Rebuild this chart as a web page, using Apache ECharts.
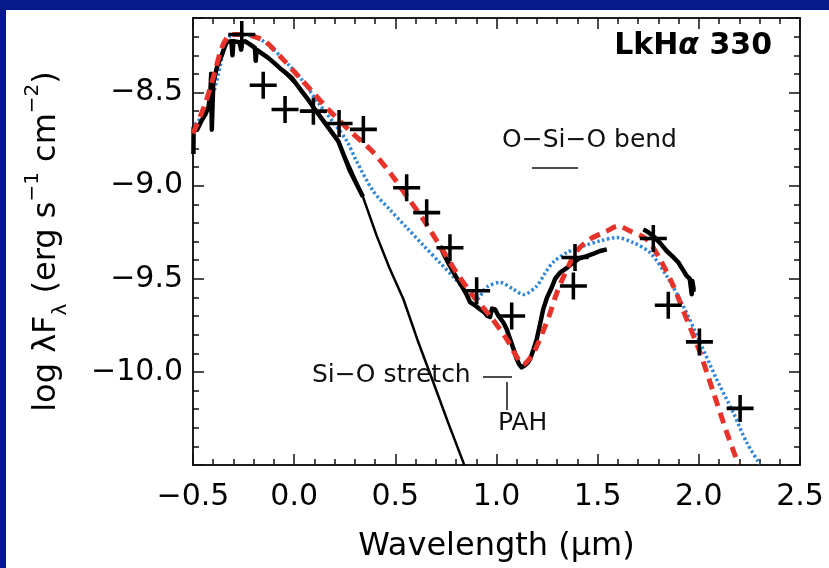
<!DOCTYPE html>
<html>
<head>
<meta charset="utf-8">
<title>LkHa 330 SED</title>
<script src="https://cdn.jsdelivr.net/npm/echarts@6/dist/echarts.min.js"></script>
<style>
  html, body { margin: 0; padding: 0; background: #fff; }
  #main { width: 829px; height: 568px; }
</style>
</head>
<body>
<div id="main"></div>
<script>
// axis ranges / ticks (log10 wavelength in um, log lambda F_lambda)
const xRange = [-0.5, 2.5];
const yRange = [-10.5, -8.1];
const xMajor = 0.5;
const xMinor = 0.1;
const yMajor = 0.5;
const yMinor = 0.1;

// photometry (crosses)
const photometry = [
  [-0.259, -8.189], [-0.153, -8.461], [-0.045, -8.591], [0.095, -8.600],
  [0.222, -8.666], [0.342, -8.698], [0.556, -9.011], [0.655, -9.145],
  [0.770, -9.333], [0.902, -9.565], [1.075, -9.700], [1.388, -9.386],
  [1.380, -9.539], [1.775, -9.284], [1.849, -9.642], [2.003, -9.839],
  [2.204, -10.196]
];

// optical / near-IR spectrum (thick black, noisy)
const opticalSpec = [
  [-0.498, -8.83], [-0.497, -8.69], [-0.48, -8.70], [-0.457, -8.65], [-0.44, -8.62],
  [-0.424, -8.58], [-0.415, -8.52], [-0.41, -8.40], [-0.407, -8.70], [-0.40, -8.45],
  [-0.383, -8.37], [-0.37, -8.33], [-0.358, -8.30], [-0.345, -8.26], [-0.334, -8.23],
  [-0.31, -8.225], [-0.305, -8.30], [-0.30, -8.225], [-0.27, -8.23], [-0.262, -8.27],
  [-0.258, -8.23], [-0.243, -8.225], [-0.22, -8.24], [-0.194, -8.26], [-0.19, -8.33],
  [-0.186, -8.27], [-0.16, -8.29], [-0.128, -8.314], [-0.095, -8.345], [-0.062, -8.377],
  [-0.012, -8.421], [0.037, -8.493], [0.07, -8.54], [0.103, -8.591], [0.16, -8.675],
  [0.218, -8.761], [0.276, -8.922], [0.34, -9.06]
];

// Spitzer IRS spectrum, two pieces (thick black)
const irsSpecA = [
  [0.721, -9.324], [0.745, -9.38], [0.770, -9.431], [0.80, -9.49], [0.828, -9.539],
  [0.85, -9.58], [0.869, -9.625], [0.89, -9.64], [0.92, -9.665], [0.94, -9.68],
  [0.955, -9.70], [0.968, -9.705], [0.978, -9.66], [0.993, -9.665], [1.01, -9.70],
  [1.034, -9.735], [1.05, -9.77], [1.067, -9.824], [1.085, -9.88], [1.100, -9.931],
  [1.112, -9.96], [1.124, -9.976], [1.14, -9.965], [1.155, -9.95], [1.166, -9.931],
  [1.183, -9.88], [1.199, -9.824], [1.215, -9.745], [1.231, -9.663], [1.25, -9.60],
  [1.273, -9.547], [1.29, -9.50], [1.314, -9.467], [1.35, -9.44], [1.38, -9.413],
  [1.41, -9.39], [1.446, -9.378], [1.48, -9.365], [1.512, -9.351], [1.545, -9.342]
];
const irsSpecB = [
  [1.726, -9.235], [1.75, -9.25], [1.783, -9.279], [1.81, -9.31], [1.841, -9.351],
  [1.87, -9.38], [1.899, -9.413], [1.92, -9.45], [1.94, -9.485], [1.955, -9.50],
  [1.965, -9.583], [1.968, -9.512], [1.975, -9.56], [1.981, -9.556]
];

// stellar photosphere (thin black)
const photosphere = [
  [-0.06, -8.38], [0.03, -8.48], [0.10, -8.59], [0.16, -8.68], [0.22, -8.77],
  [0.28, -8.91], [0.34, -9.06], [0.408, -9.27], [0.47, -9.44], [0.54, -9.61],
  [0.61, -9.83], [0.688, -10.057], [0.76, -10.27], [0.836, -10.486], [0.84, -10.50]
];

// model 1 (red dashed)
const modelRed = [
  [-0.5, -8.72], [-0.441, -8.564], [-0.391, -8.386], [-0.358, -8.26], [-0.325, -8.198],
  [-0.292, -8.189], [-0.25, -8.189], [-0.21, -8.195], [-0.144, -8.225], [-0.062, -8.314],
  [0.021, -8.413], [0.103, -8.511], [0.169, -8.591], [0.268, -8.698], [0.33, -8.76],
  [0.39, -8.82], [0.474, -8.931], [0.556, -9.056], [0.638, -9.181], [0.721, -9.324],
  [0.803, -9.467], [0.885, -9.592], [0.968, -9.70], [1.050, -9.824], [1.095, -9.91],
  [1.131, -9.96], [1.174, -9.914], [1.20, -9.86], [1.231, -9.78], [1.26, -9.70],
  [1.29, -9.60], [1.331, -9.49], [1.397, -9.351], [1.462, -9.288], [1.545, -9.244],
  [1.603, -9.217], [1.660, -9.244], [1.742, -9.288], [1.808, -9.395], [1.874, -9.539],
  [1.940, -9.717], [2.006, -9.896], [2.072, -10.110], [2.138, -10.325], [2.195, -10.495]
];

// model 2 (blue dotted)
const modelBlue = [
  [-0.49, -8.672], [-0.424, -8.582], [-0.375, -8.403], [-0.342, -8.243], [-0.317, -8.198],
  [-0.276, -8.189], [-0.194, -8.198], [-0.111, -8.26], [-0.029, -8.35], [0.037, -8.43],
  [0.119, -8.555], [0.202, -8.672], [0.26, -8.76], [0.309, -8.87], [0.391, -9.03],
  [0.474, -9.13], [0.556, -9.225], [0.638, -9.32], [0.721, -9.415], [0.787, -9.49],
  [0.853, -9.57], [0.902, -9.61], [0.952, -9.545], [1.017, -9.52], [1.083, -9.556],
  [1.133, -9.585], [1.199, -9.539], [1.24, -9.47], [1.281, -9.41], [1.347, -9.36],
  [1.429, -9.324], [1.512, -9.297], [1.594, -9.279], [1.676, -9.306], [1.759, -9.36],
  [1.841, -9.485], [1.923, -9.646], [2.006, -9.842], [2.088, -10.039], [2.170, -10.218],
  [2.236, -10.378], [2.302, -10.495]
];

const font = 'DejaVu Sans';
const ink = '#111';
const navy = '#071a8c';
const plusPath = 'path://M-1.7,-13H1.7V-1.7H13V1.7H1.7V13H-1.7V1.7H-13V-1.7H-1.7Z';

function fmt(v) {
  return v.toFixed(1).replace('-', '\u2212');
}

const frameLine = { show: true, onZero: false, lineStyle: { color: ink, width: 1.5 } };
const bigTick = { show: true, inside: true, length: 11, lineStyle: { color: ink, width: 1.5 } };
const smallTick = { show: true, inside: true, length: 6, lineStyle: { color: ink, width: 1.5 } };

// one axis per side and tick size, so majors and minors get their own lengths
function xAxisCfg(pos, step, labels) {
  return {
    type: 'value', position: pos, min: xRange[0], max: xRange[1], interval: step,
    axisLine: frameLine, axisTick: step === xMajor ? bigTick : smallTick,
    splitLine: { show: false },
    axisLabel: labels ? { show: true, color: '#000', fontFamily: font, fontSize: 30, margin: 17, formatter: fmt } : { show: false }
  };
}

function yAxisCfg(pos, step, labels) {
  return {
    type: 'value', position: pos, min: yRange[0], max: yRange[1], interval: step,
    axisLine: frameLine, axisTick: step === yMajor ? bigTick : smallTick,
    splitLine: { show: false },
    axisLabel: labels ? {
      show: true, color: '#000', fontFamily: font, fontSize: 30, margin: 10,
      formatter: function (v) {
        if (v < -10.45 || v > -8.45) return '';
        return fmt(v);
      }
    } : { show: false }
  };
}

const xBottom = xAxisCfg('bottom', xMajor, true);
xBottom.name = 'Wavelength (\u03bcm)';
xBottom.nameLocation = 'middle';
xBottom.nameGap = 66;
xBottom.nameTextStyle = { color: '#000', fontFamily: font, fontSize: 32 };

const yLeft = yAxisCfg('left', yMajor, true);
yLeft.name = '{n|log \u03bbF}{s|\u03bb}{n| (erg s}{p|\u22121}{n| cm}{p|\u22122}{n|)}';
yLeft.nameLocation = 'middle';
yLeft.nameGap = 122;
yLeft.nameTextStyle = {
  color: '#000', fontFamily: font, fontSize: 32,
  rich: {
    n: { fontFamily: font, fontSize: 32, lineHeight: 48, color: '#000' },
    s: { fontFamily: font, fontSize: 20, verticalAlign: 'bottom', color: '#000' },
    p: { fontFamily: font, fontSize: 20, verticalAlign: 'top', color: '#000' }
  }
};

const chart = echarts.init(document.getElementById('main'), null, { renderer: 'canvas' });

const option = {
  backgroundColor: '#fff',
  animation: false,
  grid: { left: 193, right: 29, top: 18, bottom: 102, containLabel: false },
  xAxis: [
    xBottom,
    xAxisCfg('bottom', xMinor, false),
    xAxisCfg('top', xMajor, false),
    xAxisCfg('top', xMinor, false)
  ],
  yAxis: [
    yLeft,
    yAxisCfg('left', yMinor, false),
    yAxisCfg('right', yMajor, false),
    yAxisCfg('right', yMinor, false)
  ],
  series: [
    {
      name: 'photosphere', type: 'line', data: photosphere, showSymbol: false,
      lineStyle: { color: '#000', width: 2.5 }, z: 2
    },
    {
      name: 'model2', type: 'line', data: modelBlue, showSymbol: false, smooth: 0.3,
      lineStyle: { color: '#2f86d6', width: 3.5, type: [2.5, 2.5] }, z: 3
    },
    {
      name: 'optical', type: 'line', data: opticalSpec, showSymbol: false,
      lineStyle: { color: '#000', width: 4.5, join: 'round' }, z: 4
    },
    {
      name: 'irsA', type: 'line', data: irsSpecA, showSymbol: false,
      lineStyle: { color: '#000', width: 4.5, join: 'round' }, z: 4
    },
    {
      name: 'irsB', type: 'line', data: irsSpecB, showSymbol: false,
      lineStyle: { color: '#000', width: 4.5, join: 'round' }, z: 4
    },
    {
      name: 'model1', type: 'line', data: modelRed, showSymbol: false, smooth: 0.3,
      lineStyle: { color: '#e8332a', width: 5, type: [11, 7] }, z: 5
    },
    {
      name: 'photometry', type: 'scatter', data: photometry,
      symbol: plusPath, symbolSize: 27,
      itemStyle: { color: '#000', opacity: 1 }, z: 6
    }
  ],
  graphic: [
    // dark blue frame around the slide
    { type: 'rect', left: 0, top: 0, shape: { width: 829, height: 10 }, style: { fill: navy }, z: 100 },
    { type: 'rect', left: 0, top: 0, shape: { width: 6, height: 568 }, style: { fill: navy }, z: 100 },
    // labels
    {
      type: 'text', right: 57, top: 31, z: 50,
      style: {
        text: '{b|LkH}{a|\u03b1}{b| 330}',
        rich: {
          b: { fontFamily: font, fontSize: 30, fontWeight: 'bold', fill: '#000' },
          a: { fontFamily: font, fontSize: 30, fontWeight: 'bold', fontStyle: 'italic', fill: '#000' }
        }
      }
    },
    { type: 'text', left: 502, top: 128, z: 50, style: { text: 'O\u2212Si\u2212O bend', fontFamily: font, fontSize: 25, fill: '#111' } },
    { type: 'line', z: 50, shape: { x1: 532, y1: 168, x2: 578, y2: 168 }, style: { stroke: '#111', lineWidth: 1.5 } },
    { type: 'text', left: 312, top: 363, z: 50, style: { text: 'Si\u2212O stretch', fontFamily: font, fontSize: 25, fill: '#111' } },
    { type: 'line', z: 50, shape: { x1: 483, y1: 377, x2: 512, y2: 377 }, style: { stroke: '#111', lineWidth: 1.5 } },
    { type: 'line', z: 50, shape: { x1: 507, y1: 382, x2: 507, y2: 410 }, style: { stroke: '#111', lineWidth: 1.5 } },
    { type: 'text', left: 498, top: 411, z: 50, style: { text: 'PAH', fontFamily: font, fontSize: 25, fill: '#111' } }
  ]
};

chart.setOption(option);
</script>
</body>
</html>
